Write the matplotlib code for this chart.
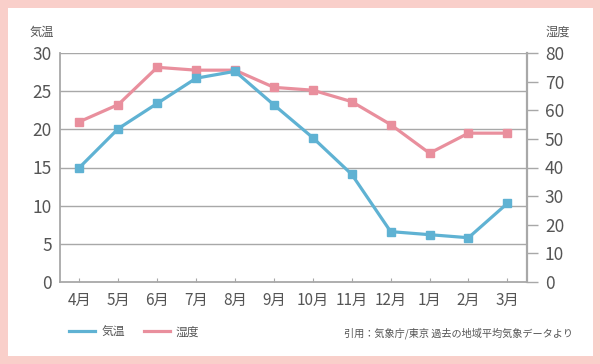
import matplotlib.pyplot as plt
from matplotlib.patches import Rectangle

plt.rcParams['font.family'] = ['Noto Sans CJK JP', 'DejaVu Sans']

months = ['4月', '5月', '6月', '7月', '8月', '9月', '10月', '11月', '12月', '1月', '2月', '3月']
temp = [15.0, 20.1, 23.4, 26.7, 27.6, 23.2, 18.9, 14.1, 6.6, 6.2, 5.8, 10.3]
humid = [56, 62, 75, 74, 74, 68, 67, 63, 55, 45, 52, 52]

blue = '#5fb2d3'
pink = '#e98f9d'
grey = '#a8a8a8'
txt = '#555555'

fig = plt.figure(figsize=(6, 3.64), dpi=100)
fig.patch.set_facecolor('#f9cfca')
fig.patches.append(Rectangle((8 / 600, 1 - 356 / 364), 585 / 600, 348 / 364,
                             transform=fig.transFigure, facecolor='white',
                             edgecolor='none', zorder=-5))

ax = fig.add_axes([0.1, 1 - 282 / 364, 0.778, 229 / 364])
ax2 = ax.twinx()
ax.set_zorder(ax2.get_zorder() + 1)
ax.patch.set_visible(False)
ax2.patch.set_visible(False)

x = range(len(months))
ax.set_xlim(-0.5, 11.5)
ax.set_ylim(0, 30)
ax2.set_ylim(0, 80)

ax.set_yticks(range(0, 31, 5))
ax2.set_yticks(range(0, 81, 10))
ax.set_xticks(list(x))
ax.set_xticklabels(months)

for v in range(5, 31, 5):
    ax.axhline(v, color=grey, lw=1, zorder=1)

# humidity drawn inside ax (below temperature) but using the right axis scale
ax.plot(x, humid, color=pink, lw=2.3, marker='s', ms=6, transform=ax2.transData, zorder=2, clip_on=False)
ax.plot(x, temp, color=blue, lw=2.3, marker='s', ms=6, zorder=3, clip_on=False)

for a in (ax, ax2):
    for s in a.spines.values():
        s.set_visible(False)
ax.spines['left'].set_visible(True)
ax.spines['bottom'].set_visible(True)
ax2.spines['right'].set_visible(True)
ax.spines['left'].set_color(grey)
ax.spines['left'].set_linewidth(1.3)
ax.spines['bottom'].set_color(grey)
ax.spines['bottom'].set_linewidth(1.3)
ax2.spines['right'].set_color(grey)
ax2.spines['right'].set_linewidth(1.6)

ax.tick_params(axis='y', length=0, pad=6, labelsize=12.5, labelcolor=txt)
ax.tick_params(axis='x', direction='in', length=3, color=grey, pad=7, labelsize=11, labelcolor=txt)
ax2.tick_params(axis='y', direction='out', length=8, color=grey, width=1, pad=5, labelsize=12.5, labelcolor=txt)

fig.text(42 / 600, 1 - 32 / 364, '気温', fontsize=8.8, color=txt, ha='center', va='center')
fig.text(558 / 600, 1 - 32 / 364, '湿度', fontsize=8.8, color=txt, ha='center', va='center')

h1, = ax.plot([], [], color=blue, lw=2.3)
h2, = ax.plot([], [], color=pink, lw=2.3)
fig.legend([h1, h2], ['気温', '湿度'], loc='center left', bbox_to_anchor=(0.098, 1 - 332 / 364),
           ncol=2, frameon=False, fontsize=8.5, handlelength=2.2, handletextpad=0.5,
           columnspacing=1.6, labelcolor=txt)

fig.text(573 / 600, 1 - 333 / 364, '引用：気象庁/東京 過去の地域平均気象データより',
         fontsize=7.3, color=txt, ha='right', va='center')

fig.savefig('out.png', dpi=100, facecolor=fig.get_facecolor())
